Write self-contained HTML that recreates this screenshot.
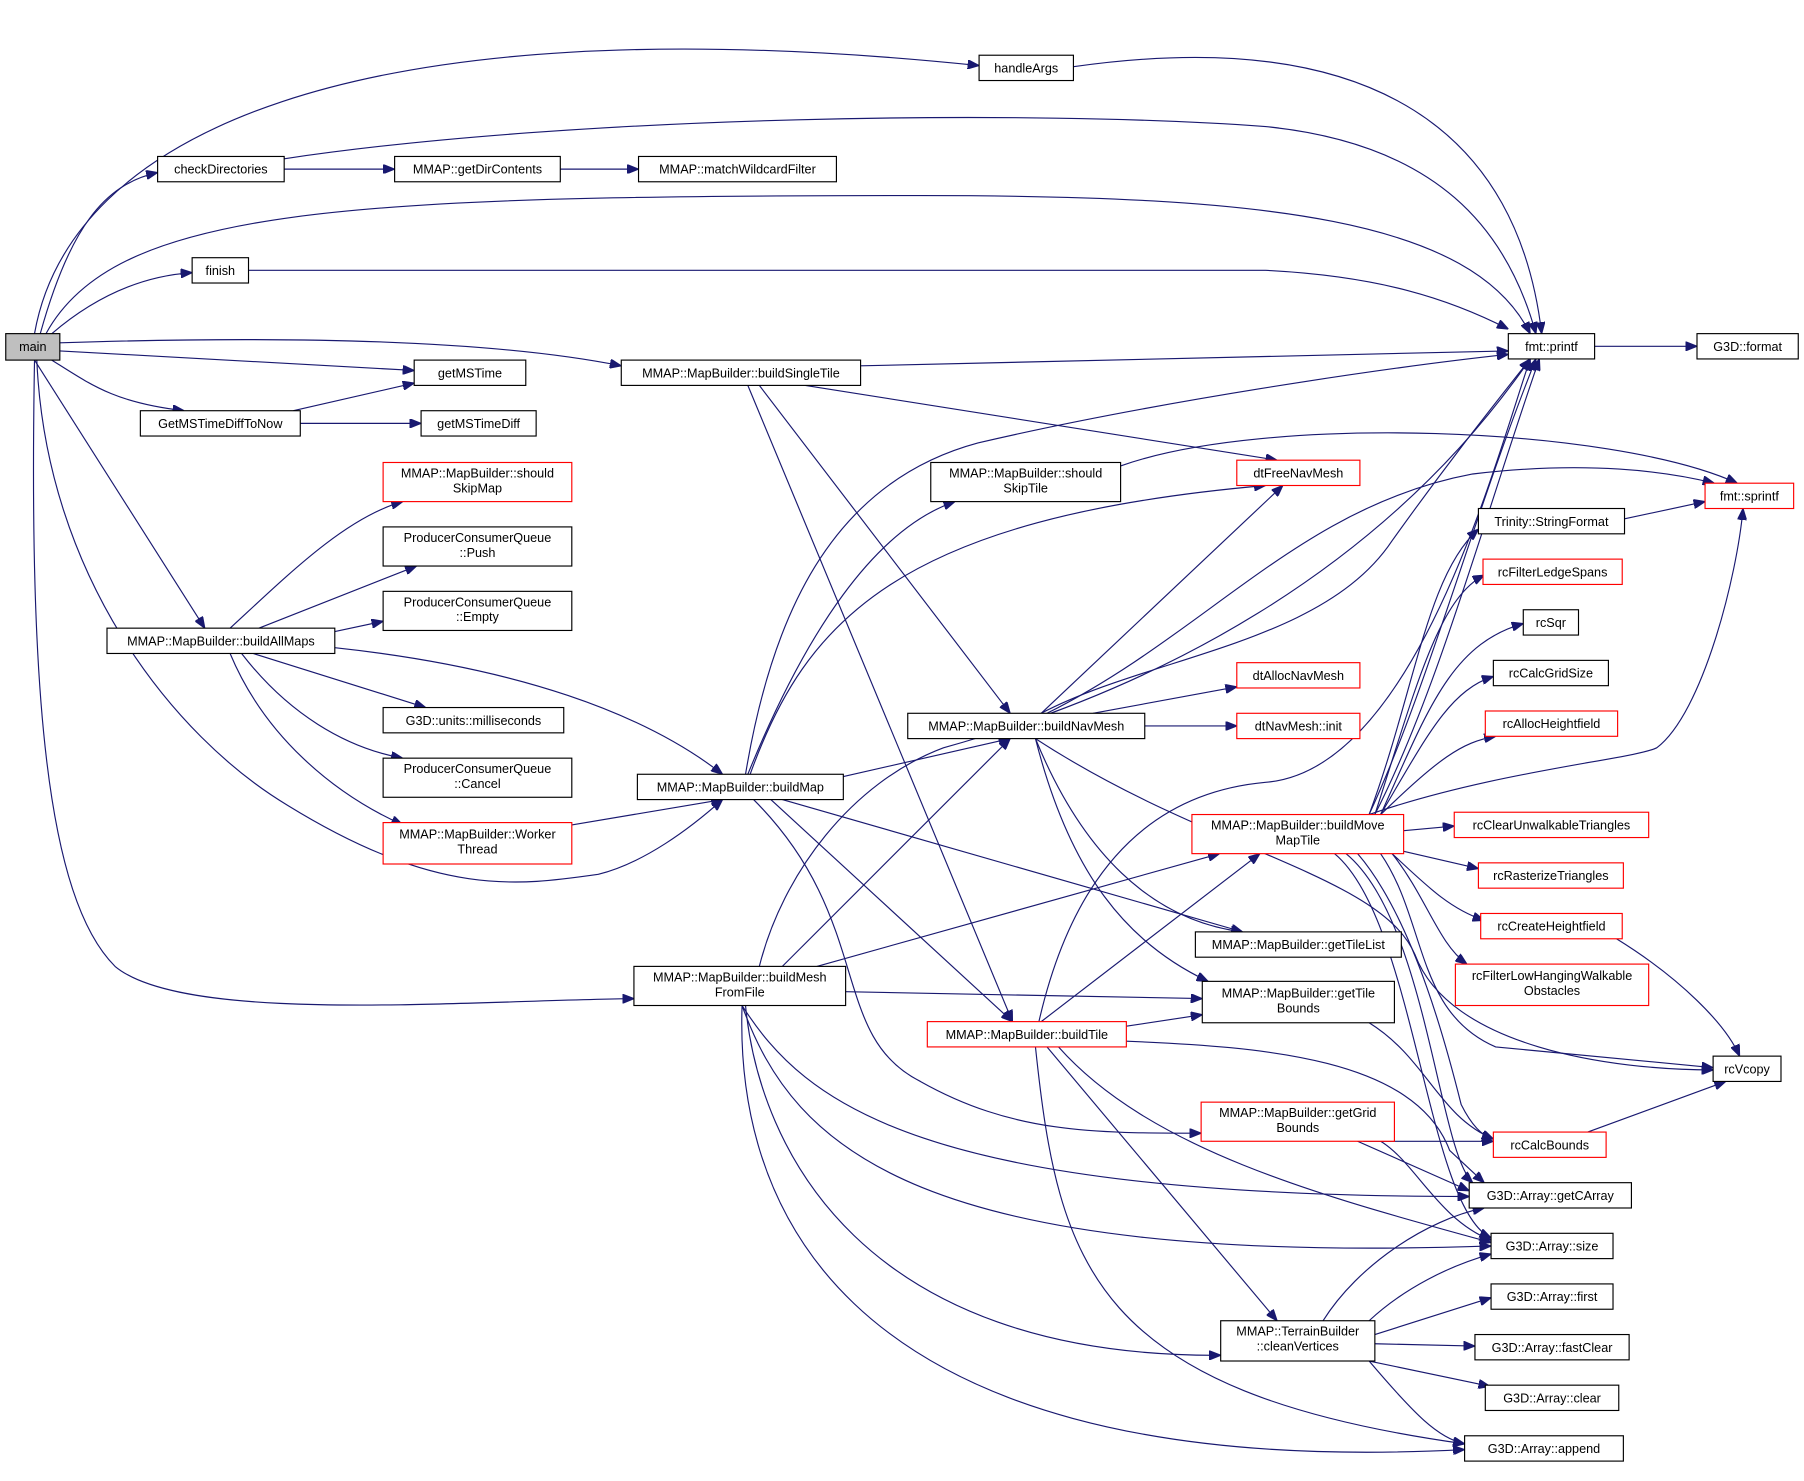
<!DOCTYPE html>
<html><head><meta charset="utf-8"><style>
html,body{margin:0;padding:0;background:#fff;}
svg{display:block;}
text{font-family:"Liberation Sans","DejaVu Sans",sans-serif;font-size:11px;fill:#000;text-anchor:middle;}
.n{fill:#fff;stroke:#000;stroke-width:1;}
.r{fill:#fff;stroke:#f00;stroke-width:1;}
.e{fill:none;stroke:#191970;stroke-width:1;}
</style></head><body>
<svg width="1804" height="1481" viewBox="0 0 1568 1287.3" preserveAspectRatio="none" xmlns="http://www.w3.org/2000/svg">
<defs><marker id="a" viewBox="0 0 10 8" refX="10" refY="4" markerWidth="10" markerHeight="8" markerUnits="userSpaceOnUse" orient="auto"><path d="M0,0 L10,4 L0,8 z" fill="#191970" stroke="#191970"/></marker></defs>
<g class="e" marker-end="url(#a)">
<path d="M30,290 C60,120 300,0 851,57"/>
<path d="M35,290 C60,200 90,160 137,150"/>
<path d="M40,290 C100,180 300,170 800,170 C1100,170 1280,190 1330,290"/>
<path d="M45,290 C80,260 120,240 167,237"/>
<path d="M52,298 C300,290 450,300 540,318"/>
<path d="M52,305 L360,322"/>
<path d="M45,313 C80,335 100,350 160,357"/>
<path d="M30,313 L178,546"/>
<path d="M32,313 C40,500 150,640 250,700 C380,780 450,770 520,760 C560,750 600,720 628,695"/>
<path d="M30,313 C25,600 40,780 100,840 C160,890 400,870 551,868"/>
<path d="M247,138 C500,100 900,95 1100,110 C1250,125 1310,200 1335,290"/>
<path d="M247,147 L343,147"/>
<path d="M487,147 L555,147"/>
<path d="M933,58 C1200,20 1320,120 1340,290"/>
<path d="M216,235 L1100,235 C1200,240 1260,260 1311,286"/>
<path d="M255,357 L360,333"/>
<path d="M261,368 L366,368"/>
<path d="M200,546 C250,500 300,450 350,436"/>
<path d="M225,546 L362,492"/>
<path d="M291,549 L333,540"/>
<path d="M220,568 L370,615"/>
<path d="M210,568 C250,620 300,650 350,659"/>
<path d="M200,568 C230,640 290,690 350,717"/>
<path d="M291,563 C450,580 560,620 628,673"/>
<path d="M497,717 L628,695"/>
<path d="M748,318 L1311,305"/>
<path d="M700,335 L1110,400"/>
<path d="M660,335 L878,620"/>
<path d="M650,335 L880,888"/>
<path d="M974,405 C1100,360 1400,370 1510,420"/>
<path d="M648,673 C670,540 720,420 850,385 C1000,350 1200,320 1311,308"/>
<path d="M650,673 C700,550 760,460 830,436"/>
<path d="M652,673 C700,540 780,450 1100,422"/>
<path d="M733,675 L878,642"/>
<path d="M680,695 L1080,810"/>
<path d="M670,695 L880,888"/>
<path d="M655,695 C760,800 720,900 800,940 C880,985 950,985 1044,985"/>
<path d="M905,620 C1000,570 1150,560 1210,470 C1260,400 1300,350 1330,312"/>
<path d="M910,620 C1050,550 1130,440 1280,412 C1380,400 1450,410 1490,420"/>
<path d="M905,620 L1115,422"/>
<path d="M950,620 L1075,597"/>
<path d="M995,631 L1075,631"/>
<path d="M900,642 C940,740 1000,800 1080,810"/>
<path d="M900,642 C930,760 980,820 1050,853"/>
<path d="M900,642 C1050,740 1200,760 1230,830 C1260,910 1400,930 1489,930"/>
<path d="M680,840 L878,642"/>
<path d="M710,840 L1060,742"/>
<path d="M660,840 C680,760 740,680 820,650 C1000,600 1200,500 1330,312"/>
<path d="M735,862 L1045,868"/>
<path d="M645,874 C700,960 800,1040 1277,1040"/>
<path d="M645,874 C690,1000 800,1100 1296,1083"/>
<path d="M648,874 C660,1000 750,1180 1061,1178"/>
<path d="M645,874 C640,1020 700,1290 1273,1260"/>
<path d="M903,888 C930,770 990,690 1100,680 C1230,670 1300,400 1330,312"/>
<path d="M905,888 L1095,742"/>
<path d="M979,892 L1045,882"/>
<path d="M979,905 C1100,910 1230,920 1260,1000 L1290,1028"/>
<path d="M910,910 L1110,1148"/>
<path d="M920,910 C1000,1000 1150,1040 1296,1080"/>
<path d="M900,910 C920,1100 950,1210 1273,1255"/>
<path d="M1190,708 C1240,600 1280,450 1335,312"/>
<path d="M1195,708 C1250,600 1290,450 1338,312"/>
<path d="M1190,708 C1300,670 1420,660 1440,650 C1480,620 1510,500 1515,442"/>
<path d="M1190,708 C1230,600 1240,500 1285,460"/>
<path d="M1195,708 C1230,600 1250,520 1290,500"/>
<path d="M1200,708 C1240,620 1260,560 1324,542"/>
<path d="M1200,708 C1240,640 1260,600 1298,588"/>
<path d="M1200,708 C1250,660 1270,645 1300,640"/>
<path d="M1220,722 L1264,718"/>
<path d="M1220,740 L1285,755"/>
<path d="M1210,742 C1240,770 1260,790 1290,800"/>
<path d="M1210,742 C1240,780 1250,820 1275,838"/>
<path d="M1200,742 C1240,800 1230,880 1300,910 L1489,928"/>
<path d="M1180,742 C1230,800 1260,920 1270,960 C1280,980 1290,988 1298,990"/>
<path d="M1170,742 C1240,800 1250,1000 1280,1028"/>
<path d="M1160,742 C1230,800 1240,1050 1296,1076"/>
<path d="M1190,889 C1240,920 1250,970 1298,990"/>
<path d="M1185,992 L1298,992"/>
<path d="M1180,992 L1277,1035"/>
<path d="M1200,992 C1230,1010 1250,1060 1296,1078"/>
<path d="M1405,816 C1460,850 1500,890 1512,918"/>
<path d="M1380,984 L1500,940"/>
<path d="M1412,451 L1482,436"/>
<path d="M1386,301 L1475,301"/>
<path d="M1150,1148 C1180,1100 1240,1060 1290,1050"/>
<path d="M1190,1148 C1220,1120 1260,1100 1296,1090"/>
<path d="M1195,1160 L1296,1128"/>
<path d="M1195,1168 L1282,1170"/>
<path d="M1190,1183 L1295,1205"/>
<path d="M1190,1183 C1230,1230 1250,1250 1273,1255"/>
</g>
<rect x="5" y="290" width="47" height="23" fill="#bfbfbf" stroke="#000"/><text x="28.5" y="305">main</text>
<rect class="n" x="851" y="48" width="82" height="22"/><text x="892" y="63">handleArgs</text>
<rect class="n" x="137" y="136" width="110" height="22"/><text x="192" y="151">checkDirectories</text>
<rect class="n" x="343" y="136" width="144" height="22"/><text x="415" y="151">MMAP::getDirContents</text>
<rect class="n" x="555" y="136" width="172" height="22"/><text x="641" y="151">MMAP::matchWildcardFilter</text>
<rect class="n" x="167" y="224" width="49" height="22"/><text x="191.5" y="239">finish</text>
<rect class="n" x="360" y="313" width="97" height="22"/><text x="408.5" y="328">getMSTime</text>
<rect class="n" x="122" y="357" width="139" height="22"/><text x="191.5" y="372">GetMSTimeDiffToNow</text>
<rect class="n" x="366" y="357" width="100" height="22"/><text x="416" y="372">getMSTimeDiff</text>
<rect class="r" x="333" y="402" width="164" height="34"/><text x="415" y="415">MMAP::MapBuilder::should</text><text x="415" y="428">SkipMap</text>
<rect class="n" x="333" y="458" width="164" height="34"/><text x="415" y="471">ProducerConsumerQueue</text><text x="415" y="484">::Push</text>
<rect class="n" x="333" y="514" width="164" height="34"/><text x="415" y="527">ProducerConsumerQueue</text><text x="415" y="540">::Empty</text>
<rect class="n" x="93" y="546" width="198" height="22"/><text x="192" y="561">MMAP::MapBuilder::buildAllMaps</text>
<rect class="n" x="333" y="615" width="157" height="22"/><text x="411.5" y="630">G3D::units::milliseconds</text>
<rect class="n" x="333" y="659" width="164" height="34"/><text x="415" y="672">ProducerConsumerQueue</text><text x="415" y="685">::Cancel</text>
<rect class="r" x="333" y="715" width="164" height="36"/><text x="415" y="729">MMAP::MapBuilder::Worker</text><text x="415" y="742">Thread</text>
<rect class="n" x="540" y="313" width="208" height="22"/><text x="644" y="328">MMAP::MapBuilder::buildSingleTile</text>
<rect class="n" x="809" y="402" width="165" height="34"/><text x="891.5" y="415">MMAP::MapBuilder::should</text><text x="891.5" y="428">SkipTile</text>
<rect class="r" x="1075" y="400" width="107" height="22"/><text x="1128.5" y="415">dtFreeNavMesh</text>
<rect class="n" x="789" y="620" width="206" height="22"/><text x="892" y="635">MMAP::MapBuilder::buildNavMesh</text>
<rect class="r" x="1075" y="576" width="107" height="22"/><text x="1128.5" y="591">dtAllocNavMesh</text>
<rect class="r" x="1075" y="620" width="107" height="22"/><text x="1128.5" y="635">dtNavMesh::init</text>
<rect class="n" x="554" y="673" width="179" height="22"/><text x="643.5" y="688">MMAP::MapBuilder::buildMap</text>
<rect class="n" x="551" y="840" width="184" height="34"/><text x="643" y="853">MMAP::MapBuilder::buildMesh</text><text x="643" y="866">FromFile</text>
<rect class="n" x="1039" y="810" width="179" height="22"/><text x="1128.5" y="825">MMAP::MapBuilder::getTileList</text>
<rect class="n" x="1045" y="853" width="167" height="36"/><text x="1128.5" y="867">MMAP::MapBuilder::getTile</text><text x="1128.5" y="880">Bounds</text>
<rect class="r" x="806" y="888" width="173" height="22"/><text x="892.5" y="903">MMAP::MapBuilder::buildTile</text>
<rect class="r" x="1044" y="958" width="168" height="34"/><text x="1128" y="971">MMAP::MapBuilder::getGrid</text><text x="1128" y="984">Bounds</text>
<rect class="n" x="1061" y="1148" width="134" height="35"/><text x="1128" y="1161">MMAP::TerrainBuilder</text><text x="1128" y="1174">::cleanVertices</text>
<rect class="n" x="1311" y="290" width="75" height="22"/><text x="1348.5" y="305">fmt::printf</text>
<rect class="n" x="1475" y="290" width="88" height="22"/><text x="1519" y="305">G3D::format</text>
<rect class="r" x="1482" y="420" width="77" height="22"/><text x="1520.5" y="435">fmt::sprintf</text>
<rect class="n" x="1285" y="442" width="127" height="22"/><text x="1348.5" y="457">Trinity::StringFormat</text>
<rect class="r" x="1289" y="486" width="121" height="22"/><text x="1349.5" y="501">rcFilterLedgeSpans</text>
<rect class="n" x="1324" y="530" width="48" height="22"/><text x="1348" y="545">rcSqr</text>
<rect class="n" x="1298" y="574" width="100" height="22"/><text x="1348" y="589">rcCalcGridSize</text>
<rect class="r" x="1291" y="618" width="115" height="22"/><text x="1348.5" y="633">rcAllocHeightfield</text>
<rect class="r" x="1036" y="708" width="184" height="34"/><text x="1128" y="721">MMAP::MapBuilder::buildMove</text><text x="1128" y="734">MapTile</text>
<rect class="r" x="1264" y="706" width="169" height="22"/><text x="1348.5" y="721">rcClearUnwalkableTriangles</text>
<rect class="r" x="1285" y="750" width="126" height="22"/><text x="1348" y="765">rcRasterizeTriangles</text>
<rect class="r" x="1287" y="794" width="123" height="22"/><text x="1348.5" y="809">rcCreateHeightfield</text>
<rect class="r" x="1265" y="838" width="168" height="36"/><text x="1349" y="852">rcFilterLowHangingWalkable</text><text x="1349" y="865">Obstacles</text>
<rect class="n" x="1489" y="918" width="59" height="22"/><text x="1518.5" y="933">rcVcopy</text>
<rect class="r" x="1298" y="984" width="98" height="22"/><text x="1347" y="999">rcCalcBounds</text>
<rect class="n" x="1277" y="1028" width="141" height="22"/><text x="1347.5" y="1043">G3D::Array::getCArray</text>
<rect class="n" x="1296" y="1072" width="106" height="22"/><text x="1349" y="1087">G3D::Array::size</text>
<rect class="n" x="1296" y="1116" width="106" height="22"/><text x="1349" y="1131">G3D::Array::first</text>
<rect class="n" x="1282" y="1160" width="134" height="22"/><text x="1349" y="1175">G3D::Array::fastClear</text>
<rect class="n" x="1291" y="1204" width="116" height="22"/><text x="1349" y="1219">G3D::Array::clear</text>
<rect class="n" x="1273" y="1248" width="138" height="22"/><text x="1342" y="1263">G3D::Array::append</text>
</svg>
</body></html>
